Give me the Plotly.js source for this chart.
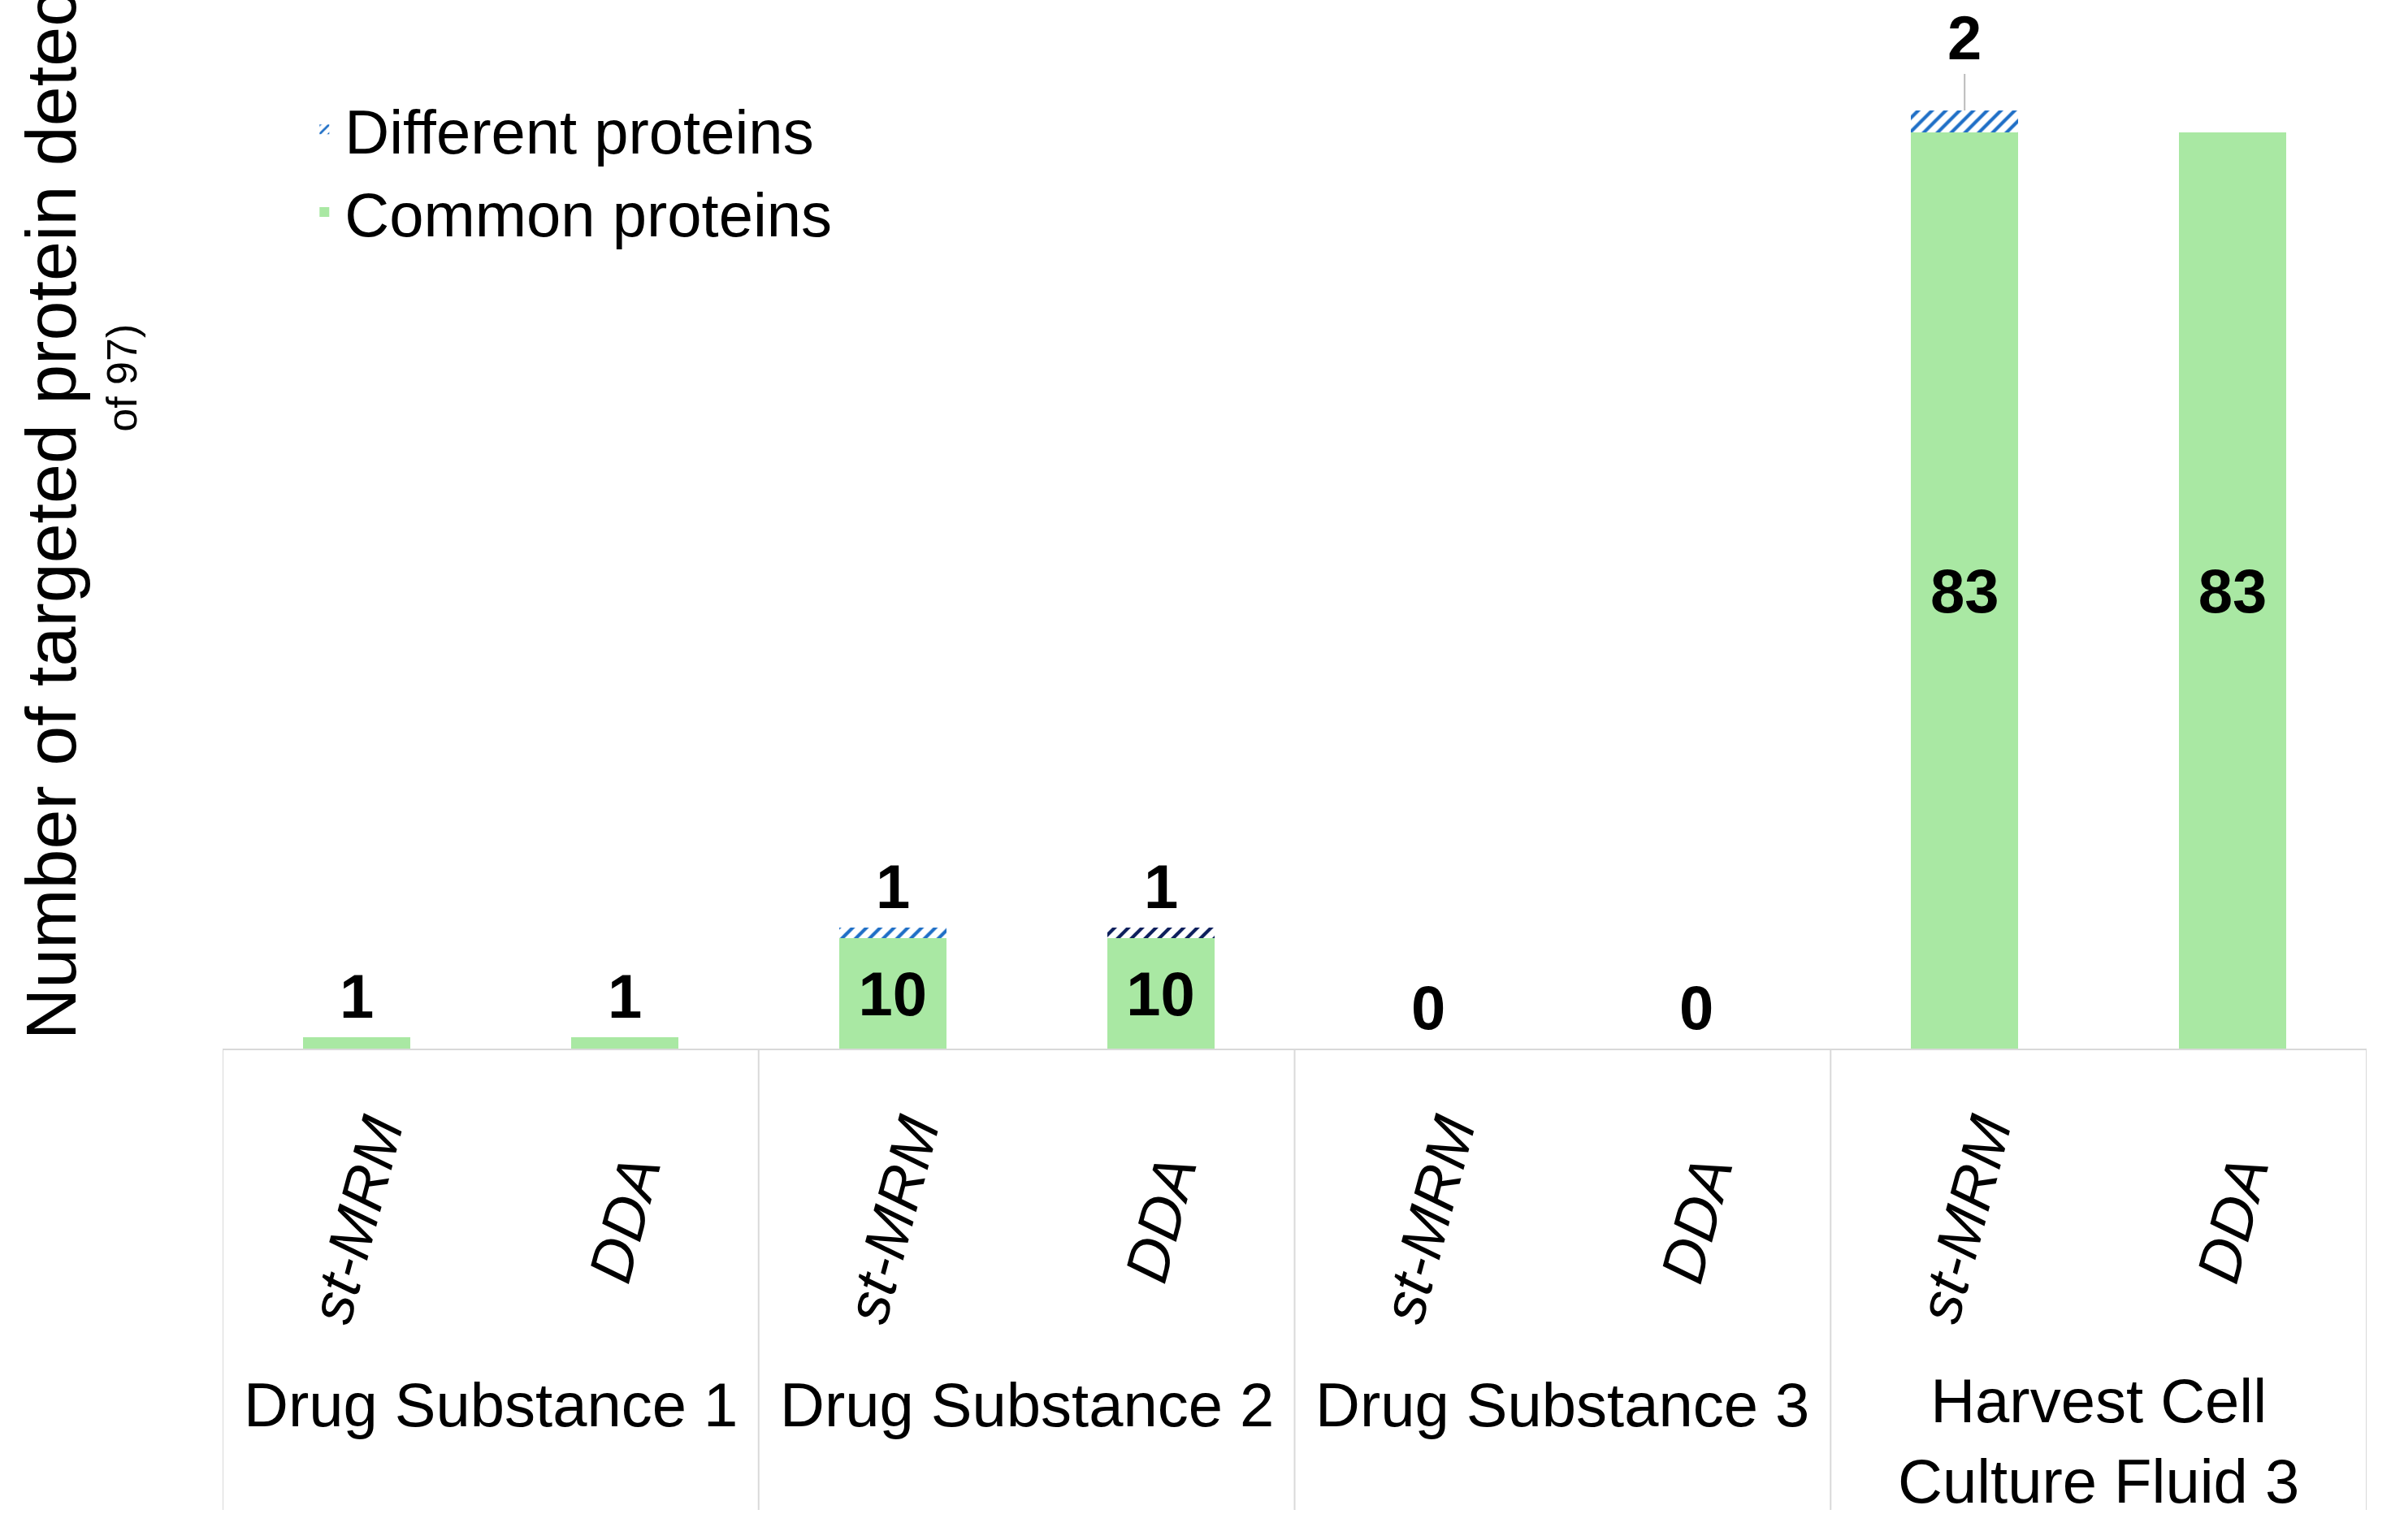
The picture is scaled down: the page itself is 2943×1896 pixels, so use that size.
<!DOCTYPE html>
<html>
<head>
<meta charset="utf-8">
<script src="https://cdn.plot.ly/plotly-3.0.1.min.js"></script>
<style>html,body{margin:0;padding:0;background:#fff}#chart{width:2943px;height:1896px}</style>
</head>
<body>
<div id="chart"></div>
<script>
// Detected proteins per sample / method, stacked common + different.
const methods = ["st-MRM", "DDA", "st-MRM", "DDA", "st-MRM", "DDA", "st-MRM", "DDA"];
const groups = ["Drug Substance 1", "Drug Substance 2", "Drug Substance 3", "Harvest Cell<br>Culture Fluid 3"];
const common = [1, 1, 10, 10, 0, 0, 83, 83];
const different = [0, 0, 1, 1, 0, 0, 2, 0];
const topLabels = ["1", "1", "1", "1", "0", "0", "2", ""];
const hatchColors = ["#1f6fc6", "#1f6fc6", "#1f6fc6", "#0d1f5c", "#1f6fc6", "#1f6fc6", "#1f6fc6", "#1f6fc6"];

const FONT = "Arial, Liberation Sans, sans-serif";
const x = methods.map((_, i) => i);
const total = common.map((c, i) => c + different[i]);

const traces = [
  {
    x, y: common, type: "bar", name: "Common proteins", width: 0.4,
    marker: { color: "#a9e8a3" },
    text: common.map((c) => (c >= 10 ? String(c) : "")),
    textposition: "inside", insidetextanchor: "middle",
    textfont: { family: FONT, size: 76, color: "#000", weight: "bold" },
    hoverinfo: "skip",
  },
  {
    x, y: different, type: "bar", name: "Different proteins", width: 0.4,
    marker: { color: "#fff", pattern: { shape: "/", fgcolor: hatchColors, bgcolor: "#fff", size: 12, solidity: 0.35 } },
    hoverinfo: "skip",
  },
];

const annotations = [];
topLabels.forEach((t, i) => {
  if (!t) return;
  const lead = i === 6;
  annotations.push({
    x: i, y: total[i], xref: "x", yref: "y", text: t,
    showarrow: lead, arrowhead: 0, arrowcolor: "#bbb", arrowwidth: 2, ax: 0, ay: lead ? -45 : 0,
    yanchor: "bottom", yshift: lead ? 0 : 6,
    font: { family: FONT, size: 76, color: "#000", weight: "bold" },
  });
});
methods.forEach((m, i) => {
  annotations.push({
    x: i, xref: "x", y: -0.163, yref: "paper", yanchor: "middle", text: "<i>" + m + "</i>", showarrow: false,
    textangle: -75, font: { family: FONT, size: 74, color: "#000" },
  });
});
groups.forEach((g, j) => {
  annotations.push({
    x: j * 2 + 0.5, xref: "x", y: j === 3 ? -0.374 : -0.34, yref: "paper", yanchor: "middle", text: g, showarrow: false,
    font: { family: FONT, size: 76, color: "#000" },
  });
});
annotations.push({
  xref: "paper", x: -0.08, yref: "paper", y: 0.6, xanchor: "center", yanchor: "middle",
  text: "Number of targeted protein detected <span style='font-size:52px'>(out</span>",
  showarrow: false, textangle: -90, font: { family: FONT, size: 88, color: "#000" },
});
annotations.push({
  xref: "paper", x: -0.047, yref: "paper", y: 0.64, xanchor: "center", yanchor: "middle", text: "of 97)",
  showarrow: false, textangle: -90, font: { family: FONT, size: 52, color: "#000" },
});

const shapes = [-0.5, 1.5, 3.5, 5.5, 7.5].map((b) => ({
  type: "line", xref: "x", x0: b, x1: b, yref: "paper", y0: 0, y1: -0.44,
  line: { color: "#d9d9d9", width: 2 },
}));

Plotly.newPlot("chart", traces, {
  width: 2943, height: 1896,
  margin: { l: 274, r: 30, t: 0, b: 605 },
  paper_bgcolor: "#fff", plot_bgcolor: "#fff",
  barmode: "stack",
  font: { family: FONT, color: "#000" },
  xaxis: { range: [-0.5, 7.5], showticklabels: false, showgrid: false, zeroline: false, showline: true, linecolor: "#d9d9d9", linewidth: 2 },
  yaxis: { range: [0, 95], visible: false },
  showlegend: true,
  legend: { x: 0.038, y: 0.92, xanchor: "left", yanchor: "top", font: { family: FONT, size: 76 }, tracegroupgap: 60, itemwidth: 40, bgcolor: "rgba(0,0,0,0)" },
  annotations, shapes,
}, { displayModeBar: false, staticPlot: true });
</script>
</body>
</html>
